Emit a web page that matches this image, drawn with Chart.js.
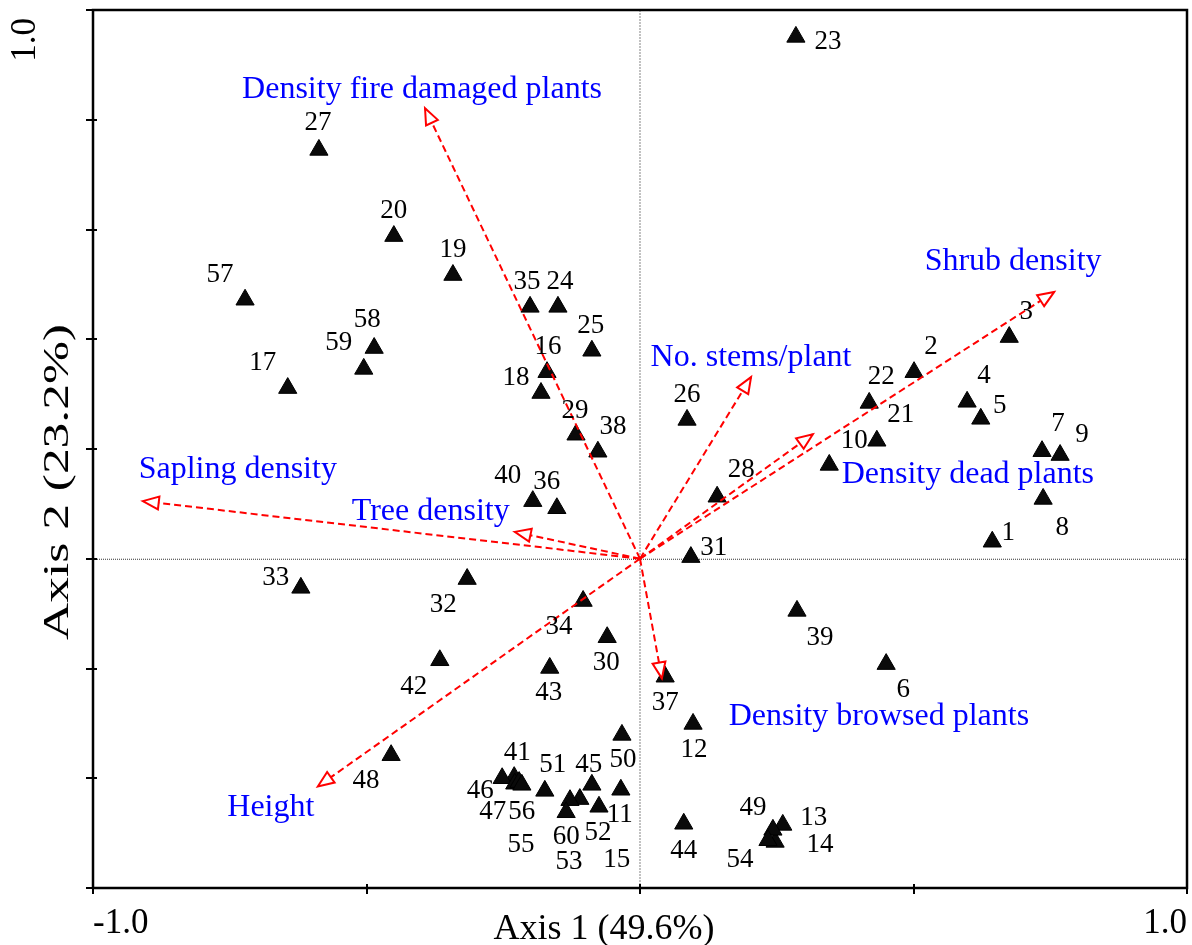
<!DOCTYPE html>
<html>
<head>
<meta charset="utf-8">
<title>Ordination biplot</title>
<script src="https://cdn.jsdelivr.net/npm/chart.js@4/dist/chart.umd.min.js"></script>
<style>
  html, body { margin: 0; padding: 0; background: #fff; }
  canvas { display: block; }
</style>
</head>
<body>
<canvas id="biplot" width="1192" height="945"></canvas>
<script>
// Site scores on the first two ordination axes
const siteIds = ['1','2','3','4','5','6','7','8','9','10','11','12','13','14','15','16','17','18','19','20',
  '21','22','23','24','25','26','27','28','29','30','31','32','33','34','35','36','37','38','39','40',
  '41','42','43','44','45','46','47','48','49','50','51','52','53','54','55','56','57','58','59','60'];
const axis1Scores = [0.644, 0.501, 0.675, 0.598, 0.623, 0.450, 0.735, 0.737, 0.768, 0.346,
  -0.035, 0.097, 0.261, 0.247, -0.110, -0.170, -0.644, -0.181, -0.342, -0.450,
  0.433, 0.419, 0.285, -0.150, -0.088, 0.086, -0.587, 0.141, -0.117, -0.060,
  0.093, -0.316, -0.620, -0.104, -0.201, -0.152, 0.046, -0.077, 0.287, -0.196,
  -0.230, -0.366, -0.165, 0.080, -0.088, -0.252, -0.229, -0.455, 0.243, -0.033,
  -0.174, -0.075, -0.128, 0.234, -0.221, -0.216, -0.722, -0.486, -0.505, -0.135];
const axis2Scores = [0.031, 0.340, 0.404, 0.286, 0.255, -0.192, 0.196, 0.109, 0.189, 0.171,
  -0.421, -0.301, -0.485, -0.516, -0.438, 0.340, 0.311, 0.302, 0.517, 0.588,
  0.215, 0.284, 0.951, 0.459, 0.379, 0.253, 0.745, 0.113, 0.226, -0.143,
  0.003, -0.037, -0.053, -0.077, 0.459, 0.092, -0.215, 0.195, -0.095, 0.105,
  -0.398, -0.185, -0.199, -0.483, -0.412, -0.400, -0.410, -0.358, -0.494, -0.321,
  -0.423, -0.452, -0.440, -0.513, -0.407, -0.412, 0.472, 0.384, 0.346, -0.462];

// Where each site number sits relative to its marker (px)
const siteLabelOffsets = [[16,-7],[17,-23],[17,-23],[17,-24],[19,-11],[17,28],[16,-25],[19,31],[22,-18],[25,-22],
  [-1,27],[1,28],[31,-5],[45,5],[37,63],[1,-23],[-25,-23],[-25,-13],[0,-23],[0,-23],
  [24,-24],[12,-24],[32,7],[2,-23],[-1,-23],[0,-23],[-1,-25],[24,-25],[-1,-22],[-1,28],
  [23,-7],[-24,28],[-25,-8],[-24,28],[-3,-23],[-10,-24],[0,28],[15,-23],[23,29],[-25,-23],
  [3,-22],[-26,29],[-1,27],[0,29],[-3,-18],[-22,15],[-22,30],[-25,28],[-20,-20],[1,27],
  [8,-24],[-1,28],[-1,64],[-28,22],[2,65],[0,29],[-25,-23],[-7,-26],[-25,-24],[0,27]];

// Environmental variable vectors (arrow tips)
const variableNames = ['Density fire damaged plants', 'Shrub density', 'No. stems/plant', 'Density dead plants',
  'Sapling density', 'Tree density', 'Density browsed plants', 'Height'];
const variableAxis1 = [-0.393, 0.757, 0.203, 0.316, -0.909, -0.229, 0.040, -0.589];
const variableAxis2 = [0.821, 0.486, 0.331, 0.227, 0.105, 0.049, -0.218, -0.415];
const variableLabelOffsets = [[-3,-19],[-41,-30],[0,-20],[155,40],[95,-32],[-84,-20],[217,38],[-47,21]];

// Axis ticks and titles
const xTickValues = [-1.0, -0.5, 0, 0.5, 1.0];
const xTickLabels = ['-1.0', '', '', '', '1.0'];
const yTickValues = [-0.6, -0.4, -0.2, 0, 0.2, 0.4, 0.6, 0.8, 1.0];
const yTickLabels = ['', '', '', '', '', '', '', '', '1.0'];
const xAxisTitle = 'Axis 1 (49.6%)';
const yAxisTitle = 'Axis 2 (23.2%)';

const SERIF = '"Liberation Serif", "Times New Roman", serif';
const RED = '#ff0000';
const BLUE = '#0000ff';

const sitePoints = siteIds.map((id, i) => ({ x: axis1Scores[i], y: axis2Scores[i] }));

const vectorDatasets = variableNames.map((name, i) => ({
  type: 'line',
  label: name,
  data: [{ x: 0, y: 0 }, { x: variableAxis1[i], y: variableAxis2[i] }],
  borderColor: RED,
  borderWidth: 2,
  borderDash: [7, 4],
  pointRadius: 0,
  fill: false,
  tension: 0,
  order: 0
}));

// Reference lines through the origin, drawn beneath the marks
const originLines = {
  id: 'originLines',
  beforeDatasetsDraw(chart) {
    const { ctx, chartArea: a, scales: { x, y } } = chart;
    const x0 = x.getPixelForValue(0), y0 = y.getPixelForValue(0);
    ctx.save();
    ctx.lineWidth = 1;
    ctx.strokeStyle = '#333';
    ctx.setLineDash([1, 1]);
    ctx.beginPath();
    ctx.moveTo(a.left, y0 + 0.5);
    ctx.lineTo(a.right, y0 + 0.5);
    ctx.stroke();
    ctx.strokeStyle = '#999';
    ctx.lineWidth = 1.2;
    ctx.setLineDash([2, 1]);
    ctx.beginPath();
    ctx.moveTo(x0, a.top);
    ctx.lineTo(x0, a.bottom);
    ctx.stroke();
    ctx.restore();
  }
};

// Arrowheads, variable names and site numbers
const annotations = {
  id: 'annotations',
  afterDatasetsDraw(chart) {
    const { ctx } = chart;
    ctx.save();
    variableNames.forEach((name, i) => {
      const meta = chart.getDatasetMeta(i + 1);
      const o = meta.data[0], t = meta.data[1];
      const ang = Math.atan2(t.y - o.y, t.x - o.x);
      const len = 16, half = 6.5;
      const bx = t.x - Math.cos(ang) * len, by = t.y - Math.sin(ang) * len;
      const px = -Math.sin(ang) * half, py = Math.cos(ang) * half;
      ctx.beginPath();
      ctx.moveTo(t.x, t.y);
      ctx.lineTo(bx + px, by + py);
      ctx.lineTo(bx - px, by - py);
      ctx.closePath();
      ctx.setLineDash([]);
      ctx.fillStyle = '#fff';
      ctx.fill();
      ctx.strokeStyle = RED;
      ctx.lineWidth = 2;
      ctx.stroke();
      const [dx, dy] = variableLabelOffsets[i];
      ctx.fillStyle = BLUE;
      ctx.font = '32px ' + SERIF;
      ctx.textAlign = 'center';
      ctx.textBaseline = 'middle';
      ctx.fillText(name, t.x + dx, t.y + dy);
    });
    const siteMeta = chart.getDatasetMeta(0);
    ctx.fillStyle = '#000';
    ctx.font = '27px ' + SERIF;
    ctx.textAlign = 'center';
    ctx.textBaseline = 'middle';
    siteMeta.data.forEach((pt, i) => {
      const [dx, dy] = siteLabelOffsets[i];
      ctx.fillText(siteIds[i], pt.x + dx, pt.y + dy - 2);
    });
    ctx.restore();
  }
};

// Frame, tick marks, tick labels and axis titles
const frame = {
  id: 'frame',
  afterDraw(chart) {
    const { ctx, chartArea: a, scales: { x, y } } = chart;
    ctx.save();
    ctx.strokeStyle = '#000';
    ctx.lineWidth = 2.5;
    ctx.setLineDash([]);
    ctx.strokeRect(a.left, a.top, a.right - a.left, a.bottom - a.top);
    ctx.lineWidth = 2;
    ctx.beginPath();
    xTickValues.forEach(v => {
      const px = Math.round(x.getPixelForValue(v));
      ctx.moveTo(px, a.bottom - 4);
      ctx.lineTo(px, a.bottom + 6);
    });
    yTickValues.forEach(v => {
      const py = Math.round(y.getPixelForValue(v));
      ctx.moveTo(a.left - 7, py);
      ctx.lineTo(a.left + 4, py);
    });
    ctx.stroke();

    ctx.fillStyle = '#000';
    ctx.font = '35px ' + SERIF;
    ctx.textBaseline = 'alphabetic';
    xTickValues.forEach((v, i) => {
      if (!xTickLabels[i]) return;
      const px = x.getPixelForValue(v);
      ctx.textAlign = i === 0 ? 'left' : (i === xTickValues.length - 1 ? 'right' : 'center');
      ctx.fillText(xTickLabels[i], px, a.bottom + 45);
    });
    yTickValues.forEach((v, i) => {
      if (!yTickLabels[i]) return;
      const py = y.getPixelForValue(v);
      ctx.save();
      ctx.translate(a.left - 58, py + 8);
      ctx.rotate(-Math.PI / 2);
      ctx.textAlign = 'right';
      ctx.fillText(yTickLabels[i], 0, 0);
      ctx.restore();
    });

    ctx.font = '36px ' + SERIF;
    ctx.textAlign = 'center';
    ctx.fillText(xAxisTitle, a.left + 511, a.bottom + 51);
    // vertical title is set wider along its run
    ctx.save();
    ctx.translate(a.left - 25, 482);
    ctx.rotate(-Math.PI / 2);
    ctx.scale(1.43, 1);
    ctx.fillText(yAxisTitle, 0, 0);
    ctx.restore();
    ctx.restore();
  }
};

new Chart(document.getElementById('biplot'), {
  type: 'scatter',
  data: {
    datasets: [{
      label: 'Sites',
      data: sitePoints,
      pointStyle: 'triangle',
      pointRadius: 10.5,
      pointHoverRadius: 10.5,
      backgroundColor: '#0a0a0a',
      borderColor: '#000',
      borderWidth: 1,
      order: 1
    }, ...vectorDatasets]
  },
  options: {
    responsive: false,
    animation: false,
    devicePixelRatio: 1,
    layout: { autoPadding: false, padding: { left: 93, right: 5, top: 10, bottom: 57 } },
    plugins: { legend: { display: false }, tooltip: { enabled: false } },
    scales: {
      x: { type: 'linear', min: -1.0, max: 1.0, display: false },
      y: { type: 'linear', min: -0.6, max: 1.0, display: false }
    }
  },
  plugins: [originLines, annotations, frame]
});
</script>
</body>
</html>
